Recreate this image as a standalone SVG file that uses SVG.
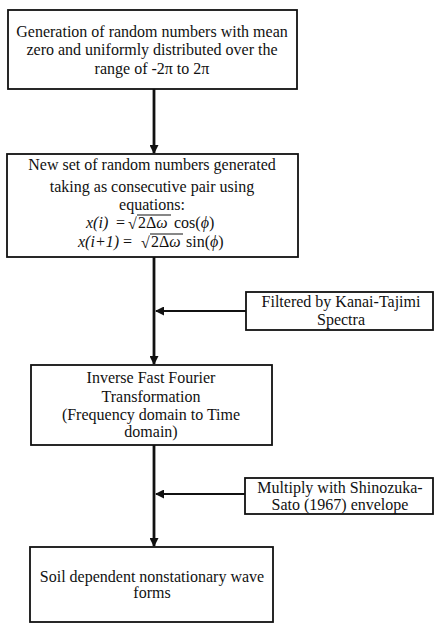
<svg xmlns="http://www.w3.org/2000/svg" width="434" height="625" viewBox="0 0 434 625">
<style>
.box{fill:#fff;stroke:#111;stroke-width:1.8}
.t{font-family:"Liberation Serif","Times New Roman",serif;font-size:16px;fill:#111;text-anchor:middle}
.m{font-family:"Liberation Serif","Times New Roman",serif;font-size:16px;fill:#111}
.i{font-style:italic}
.c{stroke:#111;stroke-width:2.8;fill:none}
.h{stroke:#111;stroke-width:2;fill:none}
.v{stroke:#111;stroke-width:1.2}
</style>
<defs>
<marker id="ah" markerWidth="9" markerHeight="9" refX="8" refY="4.5" orient="auto" markerUnits="userSpaceOnUse">
<path d="M0,0 L9,4.5 L0,9 Z" fill="#111"/>
</marker>
</defs>
<rect width="434" height="625" fill="#fff"/>
<g id="connectors">
<line class="c" x1="154" y1="89" x2="154" y2="153" marker-end="url(#ah)"/>
<line class="c" x1="154" y1="257" x2="154" y2="364" marker-end="url(#ah)"/>
<line class="h" x1="246" y1="311" x2="156" y2="311" marker-end="url(#ah)"/>
<line class="c" x1="154" y1="445" x2="154" y2="546" marker-end="url(#ah)"/>
<line class="h" x1="245" y1="494" x2="156" y2="494" marker-end="url(#ah)"/>
</g>
<g id="node1">
<rect class="box" x="8" y="10" width="289" height="79"/>
<text class="t" x="152" y="37">Generation of random numbers with mean</text>
<text class="t" x="152" y="55">zero and uniformly distributed over the</text>
<text class="t" x="152" y="74">range of -2π to 2π</text>
</g>
<g id="node2">
<rect class="box" x="7" y="154" width="291" height="103"/>
<text class="t" x="152" y="170">New set of random numbers generated</text>
<text class="t" x="152" y="192">taking as consecutive pair using</text>
<text class="t" x="152" y="210">equations:</text>
<text class="m i" x="86" y="228">x(i)</text>
<text class="m" x="116" y="228">=</text>
<text class="m" x="128" y="229" font-size="18">√</text>
<line class="v" x1="137" y1="215" x2="171" y2="215"/>
<text class="m" x="138" y="228">2Δ<tspan class="i">ω</tspan></text>
<text class="m" x="174" y="228">cos(<tspan class="i">ϕ</tspan>)</text>
<text class="m i" x="78" y="247">x(i+1)</text>
<text class="m" x="123" y="247">=</text>
<text class="m" x="141" y="248" font-size="18">√</text>
<line class="v" x1="150" y1="234" x2="183" y2="234"/>
<text class="m" x="151" y="247">2Δ<tspan class="i">ω</tspan></text>
<text class="m" x="186" y="247">sin(<tspan class="i">ϕ</tspan>)</text>
</g>
<g id="node3">
<rect class="box" x="246" y="292" width="187" height="38"/>
<text class="t" x="341" y="307">Filtered by Kanai-Tajimi</text>
<text class="t" x="341" y="325">Spectra</text>
</g>
<g id="node4">
<rect class="box" x="31" y="365" width="241" height="80"/>
<text class="t" x="151" y="383">Inverse Fast Fourier</text>
<text class="t" x="151" y="402">Transformation</text>
<text class="t" x="151" y="420">(Frequency domain to Time</text>
<text class="t" x="151" y="437">domain)</text>
</g>
<g id="node5">
<rect class="box" x="245" y="478" width="188" height="36"/>
<text class="t" x="340" y="493">Multiply with Shinozuka-</text>
<text class="t" x="340" y="510">Sato (1967) envelope</text>
</g>
<g id="node6">
<rect class="box" x="30" y="547" width="243" height="75"/>
<text class="t" x="152" y="582">Soil dependent nonstationary wave</text>
<text class="t" x="152" y="598">forms</text>
</g>
</svg>
